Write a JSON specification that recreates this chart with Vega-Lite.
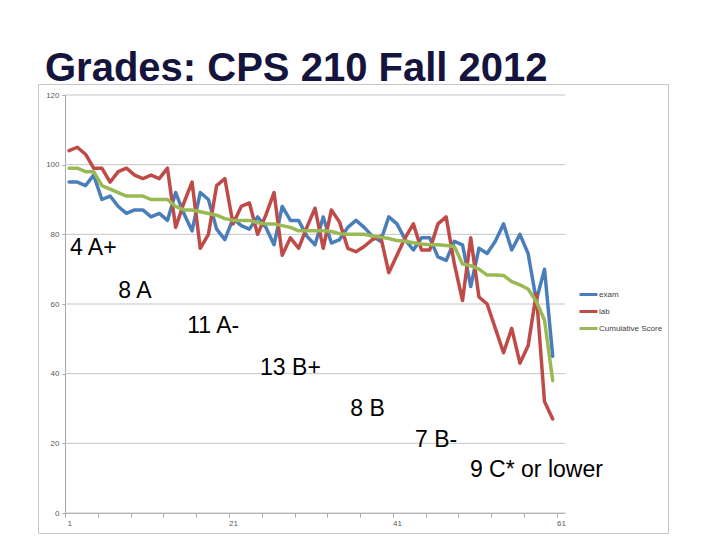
{
  "$schema": "https://vega.github.io/schema/vega-lite/v6.json",
  "width": 630,
  "height": 449,
  "autosize": "none",
  "padding": {"left": 38, "top": 84, "right": 52, "bottom": 7},
  "background": "white",
  "config": {"view": {"stroke": "#c6c6c6", "strokeWidth": 1}, "font": "Liberation Sans"},
  "title": {
    "text": "Grades: CPS 210 Fall 2012",
    "anchor": "start",
    "frame": "group",
    "fontSize": 40,
    "fontWeight": "bold",
    "font": "Liberation Sans",
    "color": "#14143c",
    "dx": 7,
    "dy": 39,
    "offset": 2,
    "baseline": "alphabetic"
  },
  "datasets": {
    "scores": [
      {"n": 1, "exam": 95, "lab": 104, "Cumulative Score": 99},
      {"n": 2, "exam": 95, "lab": 105, "Cumulative Score": 99},
      {"n": 3, "exam": 94, "lab": 103, "Cumulative Score": 98},
      {"n": 4, "exam": 97, "lab": 99, "Cumulative Score": 98},
      {"n": 5, "exam": 90, "lab": 99, "Cumulative Score": 94},
      {"n": 6, "exam": 91, "lab": 95, "Cumulative Score": 93},
      {"n": 7, "exam": 88, "lab": 98, "Cumulative Score": 92},
      {"n": 8, "exam": 86, "lab": 99, "Cumulative Score": 91},
      {"n": 9, "exam": 87, "lab": 97, "Cumulative Score": 91},
      {"n": 10, "exam": 87, "lab": 96, "Cumulative Score": 91},
      {"n": 11, "exam": 85, "lab": 97, "Cumulative Score": 90},
      {"n": 12, "exam": 86, "lab": 96, "Cumulative Score": 90},
      {"n": 13, "exam": 84, "lab": 99, "Cumulative Score": 90},
      {"n": 14, "exam": 92, "lab": 82, "Cumulative Score": 88},
      {"n": 15, "exam": 86, "lab": 89, "Cumulative Score": 87},
      {"n": 16, "exam": 81, "lab": 95, "Cumulative Score": 87},
      {"n": 17, "exam": 92, "lab": 76, "Cumulative Score": 86.5},
      {"n": 18, "exam": 90, "lab": 80, "Cumulative Score": 86},
      {"n": 19, "exam": 81.5, "lab": 94, "Cumulative Score": 85.5},
      {"n": 20, "exam": 78.5, "lab": 96, "Cumulative Score": 84.5},
      {"n": 21, "exam": 84.5, "lab": 83, "Cumulative Score": 84},
      {"n": 22, "exam": 82.5, "lab": 88, "Cumulative Score": 84},
      {"n": 23, "exam": 81.5, "lab": 89, "Cumulative Score": 84},
      {"n": 24, "exam": 85, "lab": 80, "Cumulative Score": 83.3},
      {"n": 25, "exam": 82, "lab": 85.5, "Cumulative Score": 83},
      {"n": 26, "exam": 77, "lab": 92, "Cumulative Score": 83},
      {"n": 27, "exam": 88, "lab": 74, "Cumulative Score": 82.5},
      {"n": 28, "exam": 84, "lab": 79, "Cumulative Score": 82},
      {"n": 29, "exam": 84, "lab": 76, "Cumulative Score": 81},
      {"n": 30, "exam": 79.5, "lab": 82, "Cumulative Score": 81},
      {"n": 31, "exam": 77, "lab": 87.5, "Cumulative Score": 81},
      {"n": 32, "exam": 85, "lab": 76, "Cumulative Score": 81},
      {"n": 33, "exam": 77.5, "lab": 87, "Cumulative Score": 80.8},
      {"n": 34, "exam": 78.5, "lab": 83.5, "Cumulative Score": 80.2},
      {"n": 35, "exam": 82, "lab": 76, "Cumulative Score": 80},
      {"n": 36, "exam": 84, "lab": 75, "Cumulative Score": 80},
      {"n": 37, "exam": 82, "lab": 76.5, "Cumulative Score": 80},
      {"n": 38, "exam": 79.5, "lab": 78.5, "Cumulative Score": 79.5},
      {"n": 39, "exam": 78, "lab": 79.5, "Cumulative Score": 79.2},
      {"n": 40, "exam": 85, "lab": 69, "Cumulative Score": 78.8},
      {"n": 41, "exam": 83, "lab": 74, "Cumulative Score": 78.2},
      {"n": 42, "exam": 78.5, "lab": 79, "Cumulative Score": 78},
      {"n": 43, "exam": 75.5, "lab": 83, "Cumulative Score": 77.6},
      {"n": 44, "exam": 79, "lab": 75.5, "Cumulative Score": 77.2},
      {"n": 45, "exam": 79, "lab": 75.5, "Cumulative Score": 77},
      {"n": 46, "exam": 73.5, "lab": 83, "Cumulative Score": 77},
      {"n": 47, "exam": 72.5, "lab": 85, "Cumulative Score": 76.8},
      {"n": 48, "exam": 78, "lab": 71.5, "Cumulative Score": 76.5},
      {"n": 49, "exam": 77, "lab": 61, "Cumulative Score": 71.5},
      {"n": 50, "exam": 65, "lab": 79, "Cumulative Score": 71},
      {"n": 51, "exam": 76, "lab": 62, "Cumulative Score": 70},
      {"n": 52, "exam": 74.5, "lab": 60, "Cumulative Score": 68.3},
      {"n": 53, "exam": 78, "lab": 53, "Cumulative Score": 68.3},
      {"n": 54, "exam": 83, "lab": 46, "Cumulative Score": 68.2},
      {"n": 55, "exam": 75.5, "lab": 53, "Cumulative Score": 66.4},
      {"n": 56, "exam": 80, "lab": 43, "Cumulative Score": 65.5},
      {"n": 57, "exam": 74.5, "lab": 48, "Cumulative Score": 64.3},
      {"n": 58, "exam": 61, "lab": 63, "Cumulative Score": 60.7},
      {"n": 59, "exam": 70, "lab": 32, "Cumulative Score": 55.4},
      {"n": 60, "exam": 45, "lab": 27, "Cumulative Score": 38}
    ],
    "grid": [{"v": 0}, {"v": 20}, {"v": 40}, {"v": 60}, {"v": 80}, {"v": 100}, {"v": 120}],
    "notes": [
      {"label": "4 A+", "x": 1.1, "y": 74},
      {"label": "8 A", "x": 7, "y": 61.7},
      {"label": "11 A-", "x": 15.4, "y": 51.7},
      {"label": "13 B+", "x": 24.3, "y": 39.6},
      {"label": "8 B", "x": 35.3, "y": 27.9},
      {"label": "7 B-", "x": 43.2, "y": 19},
      {"label": "9 C* or lower", "x": 49.9, "y": 10.3}
    ]
  },
  "layer": [
    {
      "data": {"name": "grid"},
      "mark": {"type": "rule", "color": "#c4c4c4", "strokeWidth": 1},
      "encoding": {
        "y": {
          "field": "v",
          "type": "quantitative",
          "scale": {"domain": [0, 120], "range": [429, 11], "nice": false, "zero": false},
          "axis": {
            "title": null,
            "values": [0, 20, 40, 60, 80, 100, 120],
            "grid": false,
            "offset": -27,
            "domainColor": "#a6a6a6",
            "tickColor": "#a6a6a6",
            "tickSize": 3,
            "labelFontSize": 8,
            "labelColor": "#595959",
            "labelPadding": 3,
            "labelFont": "Liberation Sans"
          }
        },
        "x": {
          "datum": 0.5,
          "type": "quantitative",
          "scale": {"domain": [0.5, 61.5], "range": [27, 527], "nice": false, "zero": false},
          "axis": {
            "title": null,
            "values": [0.5, 1.5, 2.5, 3.5, 4.5, 5.5, 6.5, 7.5, 8.5, 9.5, 10.5, 11.5, 12.5, 13.5, 14.5, 15.5, 16.5, 17.5, 18.5, 19.5, 20.5, 21.5, 22.5, 23.5, 24.5, 25.5, 26.5, 27.5, 28.5, 29.5, 30.5, 31.5, 32.5, 33.5, 34.5, 35.5, 36.5, 37.5, 38.5, 39.5, 40.5, 41.5, 42.5, 43.5, 44.5, 45.5, 46.5, 47.5, 48.5, 49.5, 50.5, 51.5, 52.5, 53.5, 54.5, 55.5, 56.5, 57.5, 58.5, 59.5, 60.5, 61.5],
            "labelExpr": "datum.value == 0.5 ? '1' : datum.value == 20.5 ? '21' : datum.value == 40.5 ? '41' : datum.value == 60.5 ? '61' : ''",
            "labelOffset": 4.1,
            "labelFlush": false,
            "labelOverlap": false,
            "grid": false,
            "offset": -20,
            "domainColor": "#a6a6a6",
            "tickColor": "#a6a6a6",
            "tickSize": 4,
            "labelFontSize": 8,
            "labelColor": "#595959",
            "labelPadding": 2,
            "labelFont": "Liberation Sans"
          }
        },
        "x2": {"datum": 61.5}
      }
    },
    {
      "data": {"name": "scores"},
      "transform": [{"fold": ["exam", "lab", "Cumulative Score"], "as": ["series", "score"]}],
      "mark": {"type": "line", "strokeWidth": 3.5, "strokeJoin": "round", "strokeCap": "round"},
      "encoding": {
        "x": {"field": "n", "type": "quantitative"},
        "y": {"field": "score", "type": "quantitative"},
        "color": {
          "field": "series",
          "type": "nominal",
          "sort": ["exam", "lab", "Cumulative Score"],
          "scale": {"domain": ["exam", "lab", "Cumulative Score"], "range": ["#4A7EBB", "#BE4B48", "#98B954"]},
          "legend": {
            "orient": "none",
            "legendX": 540,
            "legendY": 200,
            "title": null,
            "symbolType": "stroke",
            "symbolSize": 324,
            "symbolStrokeWidth": 3,
            "labelFontSize": 8,
            "labelColor": "#404040",
            "labelFont": "Liberation Sans",
            "rowPadding": -1.5,
            "labelOffset": 0
          }
        }
      }
    },
    {
      "data": {"name": "notes"},
      "mark": {"type": "text", "align": "left", "baseline": "alphabetic", "fontSize": 23, "font": "Liberation Sans", "color": "#000000"},
      "encoding": {
        "x": {"field": "x", "type": "quantitative"},
        "y": {"field": "y", "type": "quantitative"},
        "text": {"field": "label"}
      }
    }
  ]
}
